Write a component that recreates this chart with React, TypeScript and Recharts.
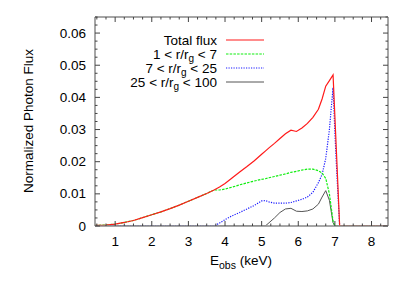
import React from "react";
import { LineChart, Line, XAxis, YAxis } from "recharts";

const energies = [0.45, 0.75, 1.0, 1.25, 1.5, 1.75, 2.0, 2.25, 2.5, 2.75, 3.0, 3.25, 3.5, 3.7, 3.85, 4.0, 4.2, 4.4, 4.6, 4.8, 5.0, 5.1, 5.2, 5.35, 5.5, 5.65, 5.8, 5.95, 6.1, 6.25, 6.4, 6.55, 6.65, 6.75, 6.85, 6.95, 7.0, 7.05, 7.13, 7.5, 8.0, 8.45];
const totalFlux = [0.0002, 0.0003, 0.0006, 0.0011, 0.0017, 0.0026, 0.0035, 0.0044, 0.0054, 0.0065, 0.0077, 0.0089, 0.0101, 0.0112, 0.0121, 0.0132, 0.015, 0.0168, 0.0185, 0.0203, 0.0223, 0.0233, 0.0243, 0.0257, 0.0272, 0.0287, 0.0298, 0.0294, 0.0305, 0.0319, 0.0338, 0.0363, 0.0395, 0.0435, 0.0452, 0.047, 0.034, 0.021, 0, 0, 0, 0];
const inner = [0.0002, 0.0003, 0.0006, 0.0011, 0.0017, 0.0026, 0.0035, 0.0044, 0.0054, 0.0065, 0.0077, 0.0089, 0.0101, 0.0112, 0.0112, 0.0115, 0.0121, 0.0128, 0.0134, 0.014, 0.0145, 0.0147, 0.015, 0.0154, 0.0158, 0.0162, 0.0167, 0.017, 0.0174, 0.0177, 0.0177, 0.0172, 0.0165, 0.0148, 0.01, 0.0015, 0, 0, 0, 0, 0, 0];
const middle = [0, 0, 0, 0, 0, 0, 0, 0, 0, 0, 0, 0, 0, 0, 0.0009, 0.002, 0.0032, 0.0042, 0.0053, 0.0064, 0.0078, 0.0079, 0.0075, 0.0071, 0.0071, 0.0071, 0.0073, 0.0078, 0.0083, 0.009, 0.0105, 0.0135, 0.016, 0.021, 0.03, 0.043, 0.029, 0.017, 0, 0, 0, 0];
const outer = [0, 0, 0, 0, 0, 0, 0, 0, 0, 0, 0, 0, 0, 0, 0, 0, 0, 0, 0, 0, 0, 0, 0.001, 0.0025, 0.0042, 0.0053, 0.0055, 0.0046, 0.0045, 0.0047, 0.0053, 0.0068, 0.009, 0.011, 0.008, 0.001, 0, 0, 0, 0, 0, 0];

const xMajorTicks = [1, 2, 3, 4, 5, 6, 7, 8];
const yMajorTicks = [0, 0.01, 0.02, 0.03, 0.04, 0.05, 0.06];
const xMinorStep = 0.25;
const yMinorStep = 0.0025;

const X_DOMAIN: [number, number] = [0.45, 8.45];
const Y_DOMAIN: [number, number] = [0, 0.065];

const data = energies.map((e, i) => ({
  e,
  total: totalFlux[i],
  inner: inner[i],
  middle: middle[i],
  outer: outer[i],
}));

const xTicks: number[] = [];
for (let k = Math.ceil(X_DOMAIN[0] / xMinorStep); k * xMinorStep <= X_DOMAIN[1] + 1e-9; k++) xTicks.push(+(k * xMinorStep).toFixed(4));
const yTicks: number[] = [];
for (let k = 0; k * yMinorStep <= Y_DOMAIN[1] + 1e-9; k++) yTicks.push(+(k * yMinorStep).toFixed(6));

const isXMajor = (v: number) => xMajorTicks.some((m) => Math.abs(m - v) < 1e-6);
const isYMajor = (v: number) => yMajorTicks.some((m) => Math.abs(m - v) < 1e-7);

const FONT = "'Liberation Sans', Arial, Helvetica, sans-serif";
const FS = 13.5;
const TICK_COLOR = "#444";
const MAJ = 5;
const MIN = 2.5;

const RED = "#ff1a1a";
const GREEN = "#11ee11";
const BLUE = "#1a1aff";
const GRAY = "#555555";

const BottomTick = (p: any) => {
  const { x, y, payload } = p;
  const major = isXMajor(payload.value);
  return (
    <g>
      <line x1={x} x2={x} y1={y} y2={y - (major ? MAJ : MIN)} stroke={TICK_COLOR} strokeWidth={1} />
      {major && (
        <text x={x} y={y + 20} textAnchor="middle" fontFamily={FONT} fontSize={FS} fill="#000">
          {payload.value}
        </text>
      )}
    </g>
  );
};
const TopTick = (p: any) => {
  const { x, y, payload } = p;
  const major = isXMajor(payload.value);
  return <line x1={x} x2={x} y1={y} y2={y + (major ? MAJ : MIN)} stroke={TICK_COLOR} strokeWidth={1} />;
};
const LeftTick = (p: any) => {
  const { x, y, payload } = p;
  const major = isYMajor(payload.value);
  return (
    <g>
      <line x1={x} x2={x + (major ? MAJ : MIN)} y1={y} y2={y} stroke={TICK_COLOR} strokeWidth={1} />
      {major && (
        <text x={x - 9} y={y + 4.5} textAnchor="end" fontFamily={FONT} fontSize={FS} fill="#000">
          {String(payload.value)}
        </text>
      )}
    </g>
  );
};
const RightTick = (p: any) => {
  const { x, y, payload } = p;
  const major = isYMajor(payload.value);
  return <line x1={x} x2={x - (major ? MAJ : MIN)} y1={y} y2={y} stroke={TICK_COLOR} strokeWidth={1} />;
};

const legendItems = [
  { pre: "Total flux", sub: "", post: "", color: RED, dash: undefined as string | undefined, w: 1.2 },
  { pre: "1 < r/r", sub: "g", post: " < 7", color: GREEN, dash: "2.5 1.2", w: 1.2 },
  { pre: "7 < r/r", sub: "g", post: " < 25", color: BLUE, dash: "1.2 1.3", w: 1.2 },
  { pre: "25 < r/r", sub: "g", post: " < 100", color: GRAY, dash: undefined, w: 1 },
];

const AXIS = { stroke: "#888", strokeWidth: 1.5 };

export default function App() {
  return (
    <div style={{ position: "absolute", left: 0, top: 0, width: 409, height: 286, background: "#fff" }}>
      <LineChart width={409} height={286} data={data} margin={{ top: 16, right: 20, bottom: 59, left: 94 }}>
        <XAxis dataKey="e" type="number" domain={X_DOMAIN} allowDataOverflow ticks={xTicks} interval={0} height={1} tickSize={0} tickMargin={0} tickLine={false} axisLine={AXIS} tick={<BottomTick />} />
        <XAxis xAxisId="top" orientation="top" dataKey="e" type="number" domain={X_DOMAIN} allowDataOverflow ticks={xTicks} interval={0} height={1} tickSize={0} tickMargin={0} tickLine={false} axisLine={AXIS} tick={<TopTick />} />
        <YAxis type="number" domain={Y_DOMAIN} allowDataOverflow ticks={yTicks} interval={0} width={1} tickSize={0} tickMargin={0} tickLine={false} axisLine={AXIS} tick={<LeftTick />} />
        <YAxis yAxisId="right" orientation="right" type="number" domain={Y_DOMAIN} allowDataOverflow ticks={yTicks} interval={0} width={1} tickSize={0} tickMargin={0} tickLine={false} axisLine={AXIS} tick={<RightTick />} />
        <Line dataKey="outer" type="linear" stroke={GRAY} strokeWidth={1} dot={false} isAnimationActive={false} />
        <Line dataKey="middle" type="linear" stroke={BLUE} strokeWidth={1.2} strokeDasharray="1.2 1.3" dot={false} isAnimationActive={false} />
        <Line dataKey="inner" type="linear" stroke={GREEN} strokeWidth={1.2} strokeDasharray="2.5 1.2" dot={false} isAnimationActive={false} />
        <Line dataKey="total" type="linear" stroke={RED} strokeWidth={1.2} dot={false} isAnimationActive={false} />
      </LineChart>
      <svg width={409} height={286} style={{ position: "absolute", left: 0, top: 0, pointerEvents: "none" }}>
        {legendItems.map((it, i) => {
          const cy = 40 + i * 14;
          return (
            <g key={i}>
              <text x={217} y={cy + 4.5} textAnchor="end" fontFamily={FONT} fontSize={FS} fill="#000">
                {it.pre}
                {it.sub && (
                  <tspan dy={3} fontSize={10}>
                    {it.sub}
                  </tspan>
                )}
                {it.post && <tspan dy={it.sub ? -3 : 0}>{it.post}</tspan>}
              </text>
              <line x1={226} x2={264} y1={cy} y2={cy} stroke={it.color} strokeWidth={it.w} strokeDasharray={it.dash} />
            </g>
          );
        })}
        <text x={28} y={121} transform="rotate(-90 28 121)" textAnchor="middle" dominantBaseline="central" fontFamily={FONT} fontSize={FS} fill="#000">
          Normalized Photon Flux
        </text>
        <text x={241} y={265} textAnchor="middle" fontFamily={FONT} fontSize={FS} fill="#000">
          E<tspan dy={4} fontSize={10.5}>obs</tspan>
          <tspan dy={-4}> (keV)</tspan>
        </text>
      </svg>
    </div>
  );
}
